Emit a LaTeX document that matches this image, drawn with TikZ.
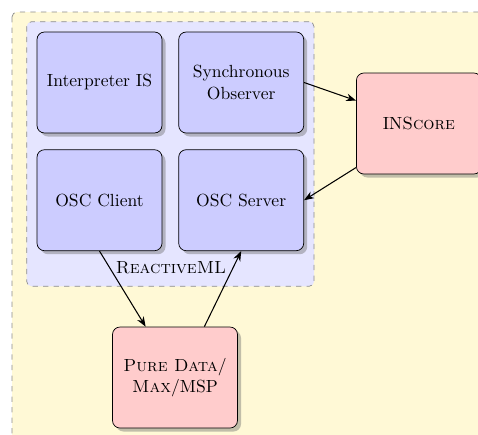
\documentclass[tikz,border=0pt]{standalone}
\usepackage{xcolor}
\usepackage{tikz}
\usetikzlibrary{arrows.meta, positioning, fit, backgrounds, shadows}
\definecolor{hostyellow}{RGB}{255, 249, 214}

\begin{document}
\begin{tikzpicture}[
    node distance=0.32cm and 0.32cm,
    module/.style={
        rectangle, 
        draw=black, 
        fill=blue!20, 
        rounded corners=1.5mm, 
        minimum height=2.02cm, 
        minimum width=2.5cm, 
        align=center,
        drop shadow={shadow xshift=0.07cm, shadow yshift=-0.07cm, fill=black!60, opacity=0.4}
    },
    external/.style={
        rectangle, 
        draw=black, 
        fill=red!20, 
        rounded corners=1.5mm, 
        minimum height=2.02cm, 
        minimum width=2.5cm, 
        align=center,
        drop shadow={shadow xshift=0.07cm, shadow yshift=-0.07cm, fill=black!60, opacity=0.4}
    },
    rmlframe/.style={rectangle, draw=black!45, dashed, fill=blue!10, rounded corners=1mm, inner sep=0.2cm},
    hostframe/.style={draw=black!45, dashed, fill=hostyellow, rounded corners=1mm},
    link/.style={-{Stealth[length=2mm]}, semithick, draw=black}
]
    \useasboundingbox (0,0) rectangle (9.56,-8.68);

    \node[module] (interp) at (1.99,-1.65) {Interpreter IS};
    \node[module, right=of interp] (sync) {Synchronous\\Observer};
    \node[module, below=of interp] (client) {OSC Client};
    \node[module, right=of client] (server) {OSC Server};
    \node[inner sep=1pt] (rml) at (3.42,-5.36) {\textsc{ReactiveML}};
    \node[external, right=1.04cm of sync, yshift=-0.82cm] (inscore) {IN\textsc{Score}};
    \node[external] (pd) at (3.5,-7.55) {\textsc{Pure Data}/\\\textsc{Max}/MSP};

    \begin{scope}[on background layer]
        \draw[hostframe] (0.24,-0.24) rectangle (10.2,-9.3);
        \node[rmlframe, fit=(interp)(sync)(client)(server)(rml)] (rmlbox) {};
    \end{scope}

    \draw[link] (sync.east) -- (inscore.160);
    \draw[link] (inscore.215) -- (server.east);
    \draw[link] (client.south) -- (pd.120);
    \draw[link] (pd.60) -- (server.south);
\end{tikzpicture}
\end{document}
